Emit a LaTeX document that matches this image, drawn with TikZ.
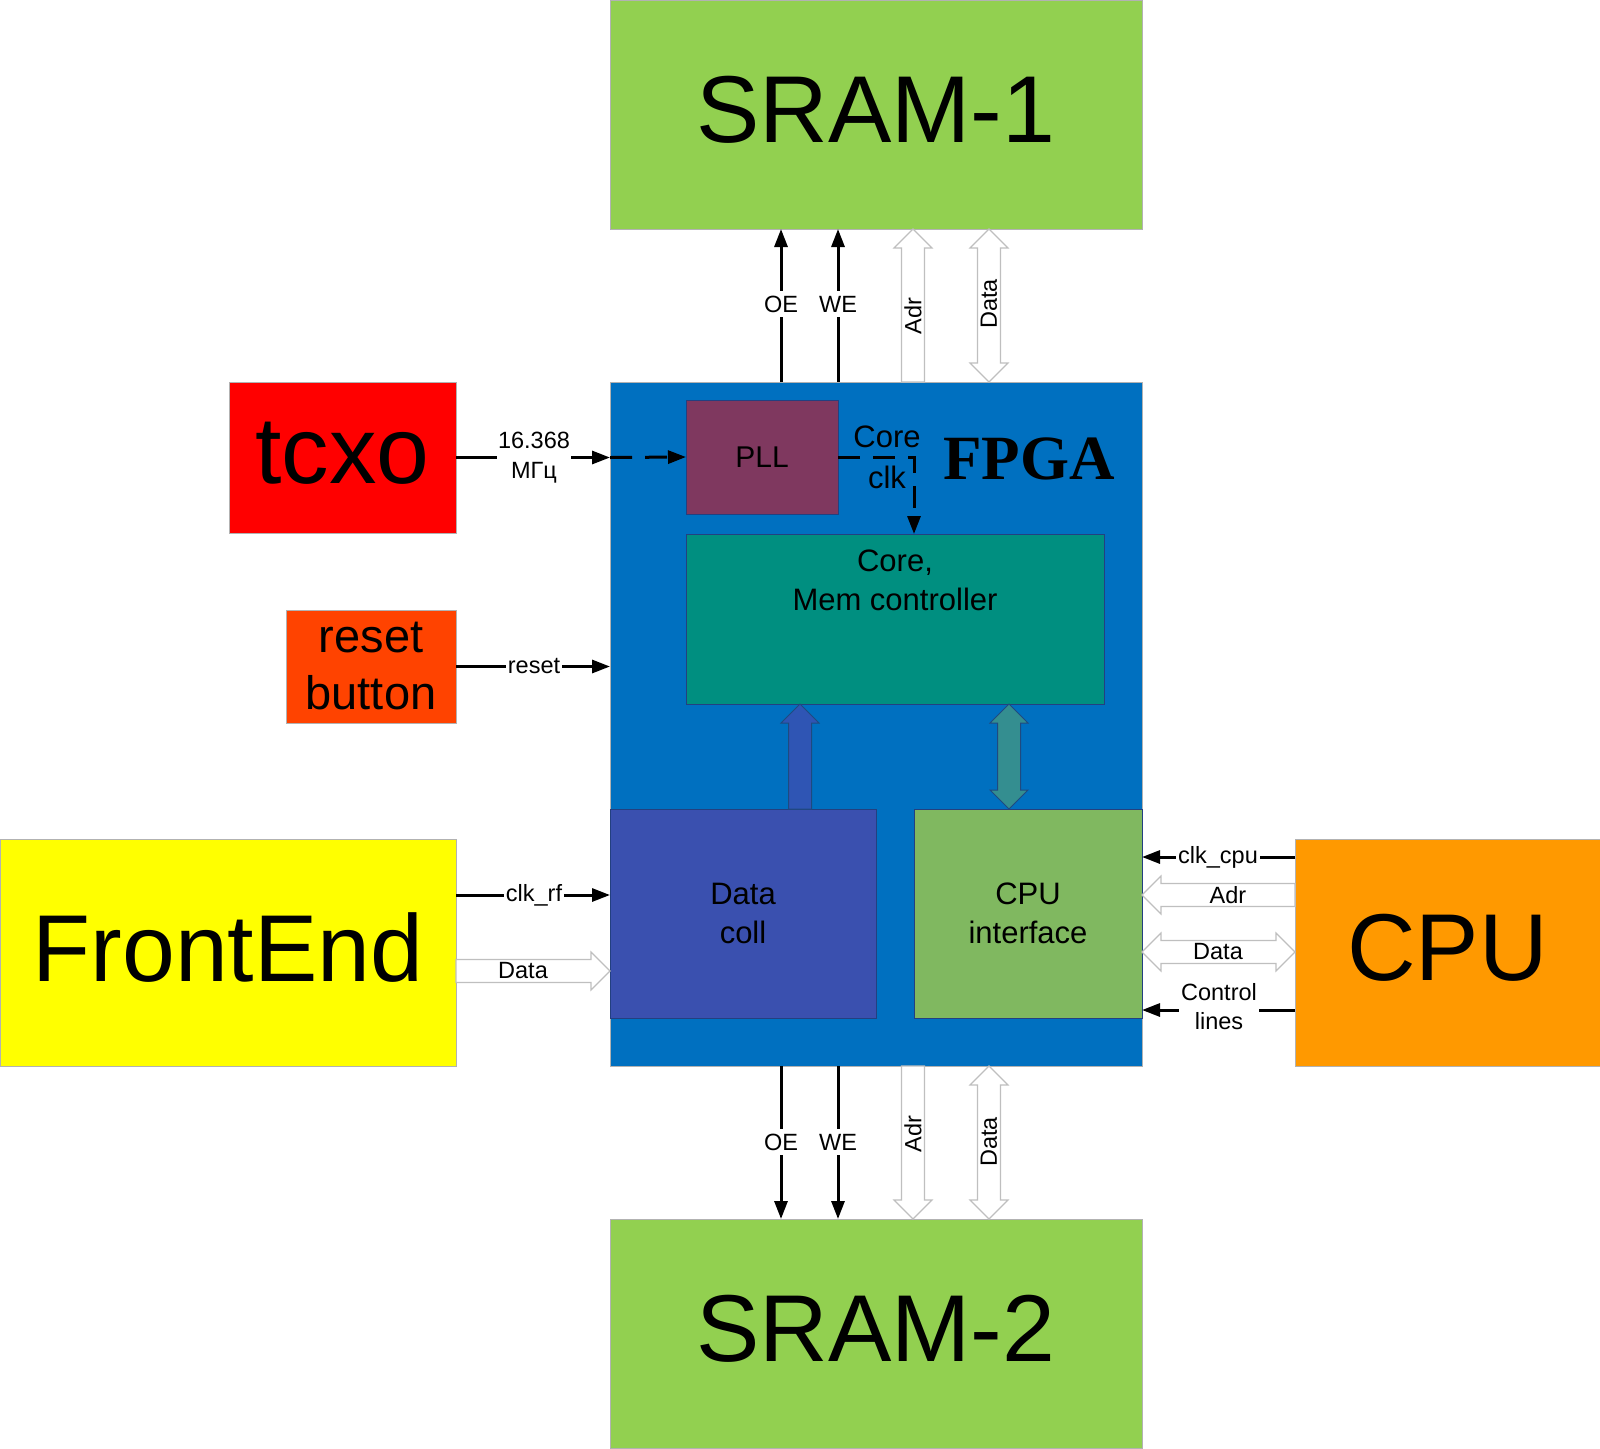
\documentclass[tikz,border=0pt]{standalone}
\usepackage{fontspec}
\setmainfont{Liberation Sans}
\newfontfamily\serifbold{Liberation Serif}
\usetikzlibrary{arrows.meta,calc}

\definecolor{sramgreen}{HTML}{92D050}
\definecolor{fpgablue}{HTML}{0070C0}
\definecolor{tcxored}{HTML}{FF0000}
\definecolor{resetorange}{HTML}{FF4300}
\definecolor{feyellow}{HTML}{FFFF00}
\definecolor{cpuorange}{HTML}{FF9900}
\definecolor{pllmaroon}{HTML}{7F385F}
\definecolor{coreteal}{HTML}{008F80}
\definecolor{collblue}{HTML}{3A50AF}
\definecolor{cpuifgreen}{HTML}{80B860}
\definecolor{inborder}{HTML}{234080}
\definecolor{upfill}{HTML}{2F55B4}
\definecolor{dblfill}{HTML}{348E90}
\definecolor{arrowborder}{HTML}{1F4A80}

% single fat arrow: #2 tail, #3 tip
\newcommand\fatarrow[3][]{%
  \coordinate (fa-T) at (#2);
  \coordinate (fa-P) at (#3);
  \coordinate (fa-H) at ($(fa-P)!19pt!(fa-T)$);
  \draw[#1] ($(fa-T)!11.5pt!90:(fa-P)$) -- ($(fa-H)!11.5pt!90:(fa-P)$) -- ($(fa-H)!19pt!90:(fa-P)$) -- (fa-P)
     -- ($(fa-H)!19pt!-90:(fa-P)$) -- ($(fa-H)!11.5pt!-90:(fa-P)$) -- ($(fa-T)!11.5pt!-90:(fa-P)$) -- cycle;
}
% double fat arrow between #2 and #3
\newcommand\fatdarrow[3][]{%
  \coordinate (fa-T) at (#2);
  \coordinate (fa-P) at (#3);
  \coordinate (fa-H) at ($(fa-P)!19pt!(fa-T)$);
  \coordinate (fa-G) at ($(fa-T)!19pt!(fa-P)$);
  \draw[#1] (fa-P) -- ($(fa-H)!19pt!90:(fa-P)$) -- ($(fa-H)!11.5pt!90:(fa-P)$) -- ($(fa-G)!11.5pt!90:(fa-P)$)
     -- ($(fa-G)!19pt!90:(fa-P)$) -- (fa-T) -- ($(fa-G)!19pt!-90:(fa-P)$) -- ($(fa-G)!11.5pt!-90:(fa-P)$)
     -- ($(fa-H)!11.5pt!-90:(fa-P)$) -- ($(fa-H)!19pt!-90:(fa-P)$) -- cycle;
}

\begin{document}
\begin{tikzpicture}[x=1pt,y=-1pt,
  box/.style={rectangle, draw=gray!60, line width=1pt, inner sep=0pt, outer sep=0pt, anchor=north west, text=black},
  inbox/.style={box, draw=inborder},
  hugetxt/.style={font=\fontsize{95}{100}\selectfont, text depth=10pt},
  midtxt/.style={font=\fontsize{31}{39}\selectfont, align=center},
  sig/.style={line width=3pt, -{Triangle[length=18pt,width=13pt]}},
  dsig/.style={sig, dash pattern=on 22pt off 13pt},
  lbl/.style={font=\fontsize{23.5}{30}\selectfont, fill=white, inner xsep=2pt, inner ysep=5pt, align=center},
  alb/.style={font=\fontsize{23.5}{30}\selectfont, inner sep=0pt},
  hollow/.style={fill=white, draw=gray!50, line width=1.2pt, line join=miter},
]
\useasboundingbox (0,0) rectangle (1600,1448);

% blocks
\node[box, fill=sramgreen, minimum width=532pt, minimum height=229pt, hugetxt] (sram1) at (610,0) {SRAM-1};
\node[box, fill=sramgreen, minimum width=532pt, minimum height=229pt, hugetxt] (sram2) at (610,1219) {SRAM-2};
\node[box, fill=fpgablue, minimum width=532pt, minimum height=684pt] (fpga) at (610,382) {};
\node[box, fill=tcxored, minimum width=227pt, minimum height=151pt, hugetxt] (tcxo) at (229,382) {tcxo};
\node[box, fill=resetorange, minimum width=170pt, minimum height=113pt, font=\fontsize{47}{57}\selectfont, align=center] (reset) at (286,610) {reset\\button};
\node[box, fill=feyellow, minimum width=456pt, minimum height=227pt, hugetxt] (frontend) at (0,839) {FrontEnd};
\node[box, fill=cpuorange, minimum width=305pt, minimum height=227pt, hugetxt] (cpu) at (1295,839) {CPU};

\node[inbox, fill=pllmaroon, minimum width=152pt, minimum height=114pt, font=\fontsize{30}{36}\selectfont] (pll) at (686,400) {PLL};
\node[inbox, fill=coreteal, minimum width=418pt, minimum height=170pt] (core) at (686,534) {};
\node[midtxt, inner sep=0pt] (coretxt) at ($(core.north)+(0,46)$) {Core,\\Mem controller};
\node[inbox, fill=collblue, minimum width=266pt, minimum height=209pt, midtxt] (coll) at (610,809) {Data\\coll};
\node[inbox, fill=cpuifgreen, minimum width=228pt, minimum height=209pt, midtxt] (cpuif) at (914,809) {CPU\\interface};

\node[font=\serifbold\bfseries\fontsize{63}{70}\selectfont, inner sep=0pt] (fpgalbl) at (1029,459) {FPGA};

% helper levels
\coordinate (xoe) at (781,0);
\coordinate (xwe) at (838,0);
\coordinate (xadr) at (913,0);
\coordinate (xdata) at (989,0);
\coordinate (xclk) at (914,0);
\coordinate (xup) at (800,0);
\coordinate (xdbl) at (1009,0);
\coordinate (yclkrf) at (0,895);
\coordinate (yfedata) at (0,971);
\coordinate (yclkcpu) at (0,857);
\coordinate (ycpuadr) at (0,895);
\coordinate (ycpudata) at (0,952);
\coordinate (yctrl) at (0,1010);

% SRAM-1 connections
\draw[sig] (fpga.north -| xoe) -- (sram1.south -| xoe);
\draw[sig] (fpga.north -| xwe) -- (sram1.south -| xwe);
\node[lbl] (oe1) at (781,304) {OE};
\node[lbl] (we1) at (838,304) {WE};
\fatarrow[hollow]{fpga.north -| xadr}{sram1.south -| xadr}
\fatdarrow[hollow]{fpga.north -| xdata}{sram1.south -| xdata}
\node[alb, rotate=90] (adr1) at (913,316) {Adr};
\node[alb, rotate=90] (data1) at (989,304) {Data};

% SRAM-2 connections
\draw[sig] (fpga.south -| xoe) -- (sram2.north -| xoe);
\draw[sig] (fpga.south -| xwe) -- (sram2.north -| xwe);
\node[lbl] (oe2) at (781,1142) {OE};
\node[lbl] (we2) at (838,1142) {WE};
\fatarrow[hollow]{fpga.south -| xadr}{sram2.north -| xadr}
\fatdarrow[hollow]{fpga.south -| xdata}{sram2.north -| xdata}
\node[alb, rotate=90] (adr2) at (913,1134) {Adr};
\node[alb, rotate=90] (data2) at (989,1142) {Data};

% tcxo -> PLL
\draw[sig] (tcxo.east) -- (fpga.west |- tcxo.east);
\node[lbl, inner xsep=1pt, inner ysep=1pt] (freq) at (534,458) {16.368\\МГц};
\draw[dsig] (fpga.west |- tcxo.east) -- (pll.west);

% PLL -> core clock
\draw[dsig] (pll.east) -- (pll.east -| xclk) -- (core.north -| xclk);
\node[midtxt, inner sep=0pt, font=\fontsize{31}{41}\selectfont] (clklbl) at (887,457) {Core\\clk};

% reset
\draw[sig] (reset.east) -- (fpga.west |- reset.east);
\node[lbl, inner xsep=1.5pt] (resetl) at (534,666) {reset};

% FrontEnd
\draw[sig] (frontend.east |- yclkrf) -- (coll.west |- yclkrf);
\node[lbl] (clkrf) at (534,895) {clk\_rf};
\fatarrow[hollow]{frontend.east |- yfedata}{coll.west |- yfedata}
\node[alb] (fedata) at (523,971) {Data};

% CPU
\draw[sig] (cpu.west |- yclkcpu) -- (cpuif.east |- yclkcpu);
\node[lbl, inner ysep=1pt] (clkcpu) at (1218,857) {clk\_cpu};
\fatarrow[hollow]{cpu.west |- ycpuadr}{cpuif.east |- ycpuadr}
\node[alb] (cpuadr) at (1228,895) {Adr};
\fatdarrow[hollow]{cpuif.east |- ycpudata}{cpu.west |- ycpudata}
\node[alb] (cpudata) at (1218,952) {Data};
\draw[sig] (cpu.west |- yctrl) -- (cpuif.east |- yctrl);
\node[lbl, inner ysep=1pt, font=\fontsize{23.5}{29}\selectfont] (ctrl) at (1219,1007) {Control\\lines};

% internal buses
\fatarrow[fill=upfill, draw=arrowborder, line width=1pt]{coll.north -| xup}{core.south -| xup}
\fatdarrow[fill=dblfill, draw=arrowborder, line width=1pt]{cpuif.north -| xdbl}{core.south -| xdbl}
\end{tikzpicture}
\end{document}
